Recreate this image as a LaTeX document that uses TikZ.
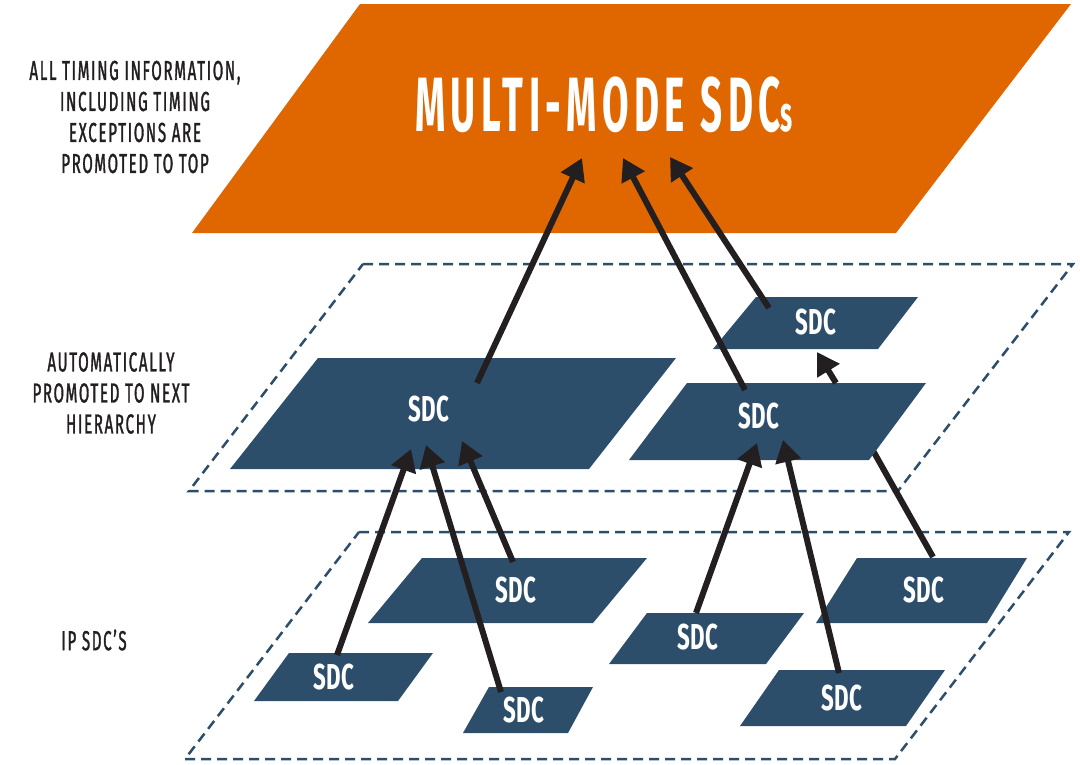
\documentclass[tikz,border=0pt]{standalone}
\usepackage{fontspec}
\newfontfamily\condfont[FakeStretch=0.62]{Fira Sans}
\newfontfamily\titlefont[FakeStretch=0.5,LetterSpace=7]{Fira Sans}
\newfontfamily\notefont[FakeStretch=0.55,LetterSpace=6,FakeBold=1.2]{Fira Sans}
\usetikzlibrary{arrows.meta}

\definecolor{toporange}{HTML}{E06600}
\definecolor{sdcblue}{HTML}{2C4E6B}
\definecolor{inkblack}{HTML}{231F20}

\begin{document}
\begin{tikzpicture}[x=1pt,y=-1pt,
  sdcbox/.style={fill=sdcblue},
  plane/.style={draw=sdcblue,line width=2.5pt,dash pattern=on 10pt off 6pt},
  sdclabel/.style={text=white,inner sep=0pt,font=\condfont\bfseries\fontsize{36}{36}\selectfont},
  note/.style={text=inkblack,align=center,inner sep=0pt,font=\notefont\fontsize{27.5}{31}\selectfont},
  arr/.style={draw=inkblack,line width=6pt,-{Triangle[length=22pt,width=25pt]}}]
\useasboundingbox (0,0) rectangle (1080,764);

% top level
\fill[toporange] (360,4) -- (1071,4) -- (896,233) -- (192,233) -- cycle;
\node[text=white,inner sep=0pt,font=\titlefont\bfseries\fontsize{77}{77}\selectfont] (top) at (604,105) {MULTI-MODE\hspace{16pt}SDC\fontsize{50}{50}\selectfont s};

% the two hierarchy planes
\draw[plane] (363,264) -- (1073,264) -- (898,491) -- (189,491) -- cycle;
\draw[plane] (359,532) -- (1069,532) -- (895,759) -- (185,759) -- cycle;

% notes on the left
\node[note] (n1) at (135,117) {ALL TIMING INFORMATION,\\INCLUDING TIMING\\EXCEPTIONS ARE\\PROMOTED TO TOP};
\node[note] (n2) at (111,393) {AUTOMATICALLY\\PROMOTED TO NEXT\\HIERARCHY};
\node[note] (n3) at (94,640) {IP SDC’S};

% arrow ends
\coordinate (t1) at (477,383);  \coordinate (h1) at (582,158);
\coordinate (t2) at (745,390);  \coordinate (h2) at (623,158);
\coordinate (t3) at (769,308);  \coordinate (h3) at (670,157);
\coordinate (t4) at (836,383);  \coordinate (h4) at (817,352);
\coordinate (t5) at (337,655);  \coordinate (h5) at (411,449);
\coordinate (t6) at (501,692);  \coordinate (h6) at (426,445);
\coordinate (t7) at (513,562);  \coordinate (h7) at (462,441);
\coordinate (t8) at (696,613);  \coordinate (h8) at (757,443);
\coordinate (t9) at (839,673);  \coordinate (h9) at (783,440);
\coordinate (t10) at (933,557); \coordinate (h10) at (858,424);

% this one runs under the block
\path[arr] (t10) -- (h10);

% middle level
\fill[sdcbox] (318,358) -- (676,358) -- (589,469) -- (230,469) -- cycle;
\node[sdclabel] (big) at (429,409) {SDC};
\fill[sdcbox] (756,297) -- (918,297) -- (878,349) -- (713,349) -- cycle;
\node[sdclabel] (small) at (816,322) {SDC};
\fill[sdcbox] (687,383) -- (926,383) -- (869,460) -- (629,460) -- cycle;
\node[sdclabel] (mid) at (759,416) {SDC};

% ip level
\fill[sdcbox] (289,653) -- (433,653) -- (398,701) -- (254,701) -- cycle;
\node[sdclabel] (ipa) at (334,677) {SDC};
\fill[sdcbox] (422,558) -- (647,558) -- (593,623) -- (368,623) -- cycle;
\node[sdclabel] (ipb) at (516,590) {SDC};
\fill[sdcbox] (489,687) -- (593,687) -- (568,733) -- (463,733) -- cycle;
\node[sdclabel] (ipc) at (524,710) {SDC};
\fill[sdcbox] (647,613) -- (804,613) -- (766,664) -- (609,664) -- cycle;
\node[sdclabel] (ipd) at (698,637) {SDC};
\fill[sdcbox] (857,558) -- (1027,558) -- (987,623) -- (816,623) -- cycle;
\node[sdclabel] (ipe) at (924,590) {SDC};
\fill[sdcbox] (779,670) -- (945,670) -- (906,726) -- (740,726) -- cycle;
\node[sdclabel] (ipf) at (842,698) {SDC};

% promotions
\path[arr] (t1) -- (h1);
\path[arr] (t2) -- (h2);
\path[arr] (t3) -- (h3);
\path[arr] (t4) -- (h4);
\path[arr] (t5) -- (h5);
\path[arr] (t6) -- (h6);
\path[arr] (t7) -- (h7);
\path[arr] (t8) -- (h8);
\path[arr] (t9) -- (h9);
\end{tikzpicture}
\end{document}
